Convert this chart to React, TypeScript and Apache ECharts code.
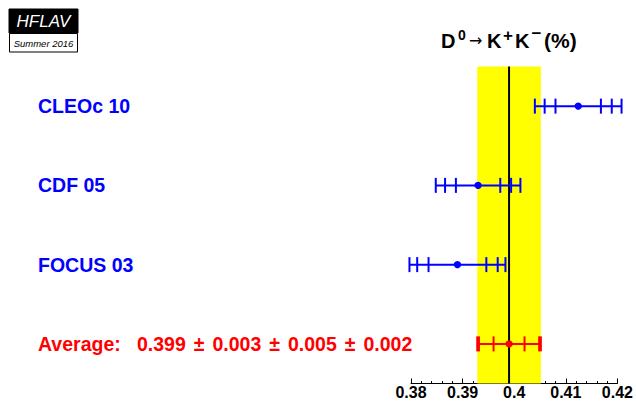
import React, { useEffect, useRef } from "react";
import * as echarts from "echarts";

// Measurements (top to bottom)
const expLabels = ["CLEOc 10", "CDF 05", "FOCUS 03"];
const expValues = [0.4124, 0.393, 0.389];
const errInner = [0.0044, 0.0043, 0.0056];
const errMiddle = [0.0065, 0.0064, 0.0078];
const errOuter = [0.0084, 0.0082, 0.0093];

// Average
const avgValue = 0.399;
const avgStat = 0.003;
const avgSyst = 0.005;
const avgExt = 0.002;

// Axis
const xTicks = [0.38, 0.39, 0.4, 0.41, 0.42];

const FONT = "Liberation Sans, Arial, Helvetica, sans-serif";

export default function App() {
  const ref = useRef<HTMLDivElement>(null);
  useEffect(() => {
    if (!ref.current) return;
    const chart = echarts.init(ref.current, undefined, { renderer: "svg" });

    const avgE1 = avgStat;
    const avgE2 = Math.sqrt(avgStat * avgStat + avgSyst * avgSyst);
    const avgE3 = Math.sqrt(avgStat * avgStat + avgSyst * avgSyst + avgExt * avgExt);
    const avgParts = [avgValue, avgStat, avgSyst, avgExt].map((x) => x.toFixed(3));
    const avgLabel = "Average:   " + avgParts.join(" ± ");
    const categories = [...expLabels, avgLabel];

    const barData: any[] = expValues.map((v, i) => [v, i, errInner[i], errMiddle[i], errOuter[i], 0]);
    barData.push([avgValue, 3, avgE1, avgE2, avgE3, 1]);
    const colors = ["#0000ff", "#ff0000"];

    const titleBase = { fontFamily: FONT, fontWeight: "bold", fill: "#000" };

    const option: any = {
      animation: false,
      backgroundColor: "#ffffff",
      grid: { left: 411, right: 15, top: 66.5, bottom: 21.5, containLabel: false },
      xAxis: {
        type: "value",
        min: xTicks[0],
        max: xTicks[xTicks.length - 1],
        interval: 0.01,
        position: "bottom",
        axisLine: { show: true, lineStyle: { color: "#000", width: 1 } },
        axisTick: { show: true, inside: true, length: 5, lineStyle: { color: "#000", width: 1 } },
        minorTick: { show: true, splitNumber: 5, length: 2.5, lineStyle: { color: "#000", width: 1 } },
        splitLine: { show: false },
        axisLabel: {
          color: "#000",
          fontFamily: FONT,
          fontWeight: "bold",
          fontSize: 16,
          margin: 1,
          formatter: (v: number) => String(Math.round(v * 1000) / 1000),
        },
      },
      yAxis: {
        type: "category",
        inverse: true,
        data: categories,
        axisLine: { show: false },
        axisTick: { show: false },
        splitLine: { show: false },
        axisLabel: {
          interval: 0,
          align: "left",
          margin: 373,
          formatter: (v: string, i: number) => {
            if (i !== 3) return `{m|${v}}`;
            const segs = v.split(" ± ");
            return segs.map((s) => `{avg|${s}}`).join("{pm|±}");
          },
          rich: {
            m: { color: "#0000ff", fontFamily: FONT, fontWeight: "bold", fontSize: 19.5 },
            avg: { color: "#ff0000", fontFamily: FONT, fontWeight: "bold", fontSize: 19.5 },
            pm: { color: "#ff0000", fontFamily: FONT, fontWeight: "bold", fontSize: 19.5, padding: [0, 8, 0, 8] },
          },
        },
      },
      graphic: [
        { type: "rect", shape: { x: 9, y: 9, width: 69, height: 24 }, style: { fill: "#000", stroke: "#000", lineWidth: 1 } },
        { type: "rect", shape: { x: 9.5, y: 33.5, width: 68, height: 18.5 }, style: { fill: "#fff", stroke: "#000", lineWidth: 1 } },
        {
          type: "text",
          x: 43.5,
          y: 21.5,
          style: { text: "HFLAV", fill: "#fff", font: `italic 17px ${FONT}`, align: "center", verticalAlign: "middle" },
        },
        {
          type: "text",
          x: 43.5,
          y: 43,
          style: { text: "Summer 2016", fill: "#000", font: `italic 9.5px ${FONT}`, align: "center", verticalAlign: "middle" },
        },
        { type: "text", x: 441, y: 40.5, style: { ...titleBase, text: "D", fontSize: 20, verticalAlign: "middle" } },
        { type: "text", x: 458, y: 34.5, style: { ...titleBase, text: "0", fontSize: 14, verticalAlign: "middle" } },
        { type: "text", x: 469, y: 40, style: { text: "→", fill: "#000", fontFamily: "DejaVu Sans, sans-serif", fontSize: 16, verticalAlign: "middle" } },
        { type: "text", x: 487, y: 40.5, style: { ...titleBase, text: "K", fontSize: 20, verticalAlign: "middle" } },
        { type: "text", x: 503, y: 35.5, style: { ...titleBase, text: "+", fontSize: 17, verticalAlign: "middle" } },
        { type: "text", x: 515, y: 40.5, style: { ...titleBase, text: "K", fontSize: 20, verticalAlign: "middle" } },
        { type: "text", x: 531.5, y: 33.5, style: { ...titleBase, text: "−", fontSize: 17, verticalAlign: "middle" } },
        { type: "text", x: 544, y: 40.5, style: { ...titleBase, text: "(%)", fontSize: 21, verticalAlign: "middle" } },
      ],
      series: [
        {
          type: "custom",
          z: 1,
          data: [[avgValue, avgE3]],
          renderItem: (params: any, api: any) => {
            const cs = params.coordSys;
            const v = api.value(0);
            const e = api.value(1);
            const x1 = api.coord([v - e, 0])[0];
            const x2 = api.coord([v + e, 0])[0];
            const xc = api.coord([v, 0])[0];
            return {
              type: "group",
              children: [
                { type: "rect", shape: { x: x1, y: cs.y, width: x2 - x1, height: cs.height }, style: { fill: "#ffff00" } },
                { type: "line", shape: { x1: xc, y1: cs.y, x2: xc, y2: cs.y + cs.height }, style: { stroke: "#000", lineWidth: 2 } },
              ],
            };
          },
        },
        {
          type: "custom",
          z: 3,
          data: barData,
          renderItem: (params: any, api: any) => {
            const v = api.value(0);
            const cat = api.value(1);
            const e1 = api.value(2);
            const e2 = api.value(3);
            const e3 = api.value(4);
            const col = colors[api.value(5)];
            const c = api.coord([v, cat]);
            const y = c[1];
            const xs = [v - e3, v - e2, v - e1, v + e1, v + e2, v + e3].map((x) => api.coord([x, cat])[0]);
            const h = 7.5;
            const children: any[] = [
              { type: "line", shape: { x1: xs[0], y1: y, x2: xs[5], y2: y }, style: { stroke: col, lineWidth: 2 } },
            ];
            xs.forEach((x) => {
              children.push({ type: "line", shape: { x1: x, y1: y - h, x2: x, y2: y + h }, style: { stroke: col, lineWidth: 2 } });
            });
            children.push({ type: "circle", shape: { cx: c[0], cy: y, r: 3.7 }, style: { fill: col } });
            return { type: "group", children };
          },
        },
      ],
    };
    chart.setOption(option);
    return () => chart.dispose();
  }, []);
  return <div ref={ref} style={{ position: "fixed", left: 0, top: 0, width: 636, height: 405 }} />;
}
